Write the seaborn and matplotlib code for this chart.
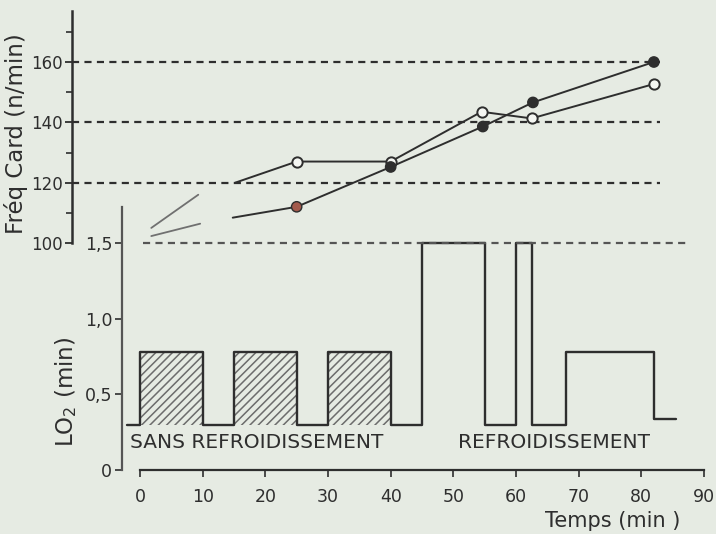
import numpy as np
import pandas as pd
import matplotlib
matplotlib.use("Agg")
import matplotlib.pyplot as plt
import seaborn as sns

# ---------------- data ----------------
# Heart rate (Fréq Card, n/min) — open-circle series
open_t = [1.8, 9.3, 15.2, 25, 40, 54.5, 62.5, 82]
open_v = [105, 116, 120, 127, 127, 143.5, 141.3, 152.7]
# Heart rate — filled-circle series
fill_t = [1.8, 9.6, 14.8, 25, 40, 54.7, 62.7, 82]
fill_v = [102.3, 106.4, 108.4, 112, 125.2, 138.6, 146.6, 160]
first_marker = 3  # markers drawn from this index on

# LO2 (min) step profile
step_t = [-2, 0, 10, 15, 25, 30, 40, 45, 55, 60, 62.5, 68, 82, 85.5]
step_v = [0.3, 0.78, 0.3, 0.78, 0.3, 0.78, 0.3, 1.5, 0.3, 1.5, 0.3, 0.78, 0.34, 0.34]
hatch_spans = [(0, 10), (15, 25), (30, 40)]
hatch_low, hatch_high = 0.3, 0.78

hr_grid = [120, 140, 160]
hr_base = 100
hr_ticks = [100, 120, 140, 160]
hr_minor = [110, 130, 150, 170]
lo_ticks = [0, 0.5, 1.0, 1.5]
lo_ticklabels = ["0", "0,5", "1,0", "1,5"]
t_ticks = [0, 10, 20, 30, 40, 50, 60, 70, 80, 90]

# ---------------- style ----------------
sns.set_style("ticks")
plt.rcParams["font.family"] = ["DejaVu Sans"]
BG = "#e6ebe3"
INK = "#2e2e2e"
plt.rcParams["hatch.linewidth"] = 1.1

fig = plt.figure(figsize=(7.16, 5.34), dpi=100, facecolor=BG)
rect = [72 / 716, (534 - 470) / 534, (704 - 72) / 716, 460 / 534]
ax_lo = fig.add_axes(rect)
ax_up = fig.add_axes(rect, sharex=ax_lo)
for a in (ax_lo, ax_up):
    a.set_facecolor("none")
    for s in a.spines.values():
        s.set_visible(False)

xmin = (72 - 140) / (564 / 90)
ax_lo.set_xlim(xmin, 90)
# lower axis: 0 at bottom px 470, 1.5 at px 243
lo_per_px = 1.5 / 227
ax_lo.set_ylim(0, 460 * lo_per_px)
# upper axis: 100 at px 243, 160 at px 62
up_per_px = 60 / 181
ax_up.set_ylim(100 - 227 * up_per_px, 100 + 233 * up_per_px)

# ---------------- lower panel ----------------
for s, e in hatch_spans:
    ax_lo.fill_between([s, e], hatch_low, hatch_high, facecolor="none",
                       edgecolor="#6c6c6c", hatch="////", linewidth=0)
df_step = pd.DataFrame({"t": step_t, "v": step_v})
sns.lineplot(data=df_step, x="t", y="v", ax=ax_lo, drawstyle="steps-post",
             color=INK, linewidth=1.7, estimator=None, sort=False)

ax_lo.spines["left"].set_visible(True)
ax_lo.spines["left"].set_position(("data", (122 - 140) / (564 / 90)))
ax_lo.spines["left"].set_bounds(0, 1.74)
ax_lo.spines["left"].set_color("#555555")
ax_lo.spines["left"].set_linewidth(1.6)
ax_lo.spines["bottom"].set_visible(True)
ax_lo.spines["bottom"].set_bounds(0, 90)
ax_lo.spines["bottom"].set_color(INK)
ax_lo.spines["bottom"].set_linewidth(1.6)
ax_lo.set_yticks(lo_ticks)
ax_lo.set_yticklabels(lo_ticklabels)
ax_lo.set_xticks(t_ticks)
ax_lo.tick_params(axis="both", labelsize=12.5, colors=INK, length=5, width=1.2)
ax_lo.tick_params(axis="x", pad=8)
ax_lo.tick_params(axis="y", pad=2)
ax_lo.set_xlabel("")
ax_lo.set_ylabel("")

ax_lo.text(-1.6, 0.185, "SANS REFROIDISSEMENT", fontsize=14.5, color=INK,
           va="center", ha="left")
ax_lo.text(50.7, 0.185, "REFROIDISSEMENT", fontsize=14.5, color=INK,
           va="center", ha="left")
ax_lo.text(64.6, -0.34, "Temps (min )", fontsize=15, color=INK,
           va="center", ha="left")
fig.text(66 / 716, 1 - 392 / 534, "LO$_2$ (min)", rotation=90, fontsize=16.5,
         color=INK, ha="center", va="center")

# ---------------- upper panel ----------------
ax_up.hlines(hr_grid, xmin, 83, colors=INK, linestyles=(0, (3.2, 2.4)),
             linewidth=1.6)
ax_up.hlines([hr_base], 0.5, 87.3, colors="#555555",
             linestyles=(0, (3.2, 2.4)), linewidth=1.6)

# faded early segments, then the main lines
for tt, vv in ((open_t, open_v), (fill_t, fill_v)):
    d0 = pd.DataFrame({"t": tt[:2], "v": vv[:2]})
    sns.lineplot(data=d0, x="t", y="v", ax=ax_up, color="#707070",
                 linewidth=1.3, estimator=None, sort=False)
    d1 = pd.DataFrame({"t": tt[2:], "v": vv[2:]})
    sns.lineplot(data=d1, x="t", y="v", ax=ax_up, color=INK,
                 linewidth=1.4, estimator=None, sort=False)

dm_open = pd.DataFrame({"t": open_t[first_marker:], "v": open_v[first_marker:]})
sns.scatterplot(data=dm_open, x="t", y="v", ax=ax_up, s=55, facecolor="#f4f6f2",
                edgecolor=INK, linewidth=1.4, zorder=5)
fill_colors = ["#a35a4c"] + [INK] * (len(fill_t) - first_marker - 1)
dm_fill = pd.DataFrame({"t": fill_t[first_marker:], "v": fill_v[first_marker:]})
sns.scatterplot(data=dm_fill, x="t", y="v", ax=ax_up, s=55, c=fill_colors,
                edgecolor=INK, linewidth=1.0, zorder=5)

ax_up.spines["left"].set_visible(True)
ax_up.spines["left"].set_bounds(100, 177)
ax_up.spines["left"].set_color(INK)
ax_up.spines["left"].set_linewidth(1.8)
ax_up.set_yticks(hr_ticks)
ax_up.set_yticks(hr_minor, minor=True)
ax_up.tick_params(axis="y", which="major", labelsize=12, colors=INK, length=5,
                  width=1.3, pad=1.5)
ax_up.tick_params(axis="y", which="minor", length=4, width=1.2, colors=INK)
ax_up.tick_params(axis="x", which="both", bottom=False, labelbottom=False)
ax_up.set_xlabel("")
ax_up.set_ylabel("")
fig.text(16 / 716, 1 - 134 / 534, "Fréq Card (n/min)", rotation=90,
         fontsize=16.5, color=INK, ha="center", va="center")

fig.savefig("out.png", dpi=100, facecolor=BG)
